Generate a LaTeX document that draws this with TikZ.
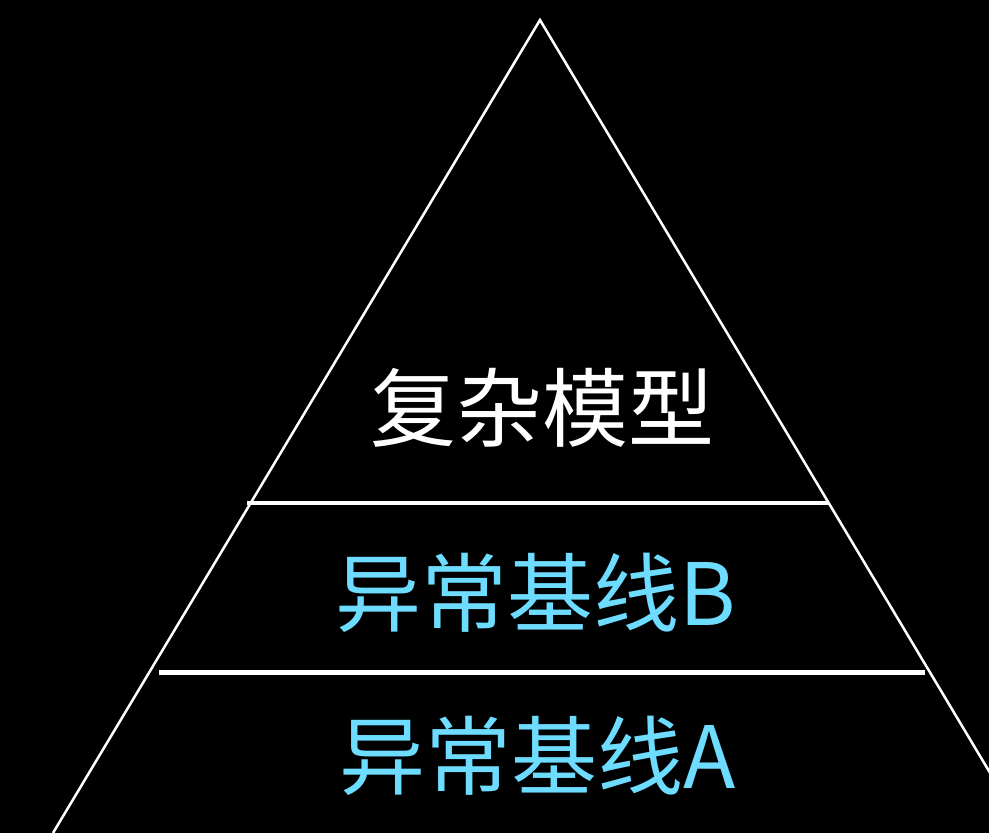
\documentclass[tikz,border=0pt]{standalone}
\usepackage{fontspec}
\newfontfamily\cjk{Noto Sans CJK SC}
\definecolor{lblue}{HTML}{6DDCFF}
\begin{document}
\begin{tikzpicture}[x=1pt,y=-1pt,
  edge/.style={draw=white,line width=2.5pt},
  tier/.style={draw=white,line width=4.5pt},
  lbl/.style={inner sep=0pt,font=\cjk\fontsize{86}{90}\selectfont}]
\fill[black] (0,0) rectangle (989,833);
\useasboundingbox (0,0) rectangle (989,833);
\coordinate (apex) at (540,20);
\coordinate (bl) at (53,833);
\coordinate (br) at (1026,833);
\begin{scope}
\clip (0,0) rectangle (989,833);
\draw[edge,line join=miter] (bl) -- (apex) -- (br);
\end{scope}
\coordinate (l1a) at (247,503);
\coordinate (l1b) at (829,503);
\coordinate (l2a) at (159,672.5);
\coordinate (l2b) at (925,672.5);
\draw[tier] (l1a) -- (l1b);
\draw[tier] (l2a) -- (l2b);
\node[lbl,text=white] (top) at (542,408) {复杂模型};
\node[lbl,text=lblue] (mid) at (536,593) {异常基线B};
\node[lbl,text=lblue] (bot) at (538,756) {异常基线A};
\end{tikzpicture}
\end{document}
